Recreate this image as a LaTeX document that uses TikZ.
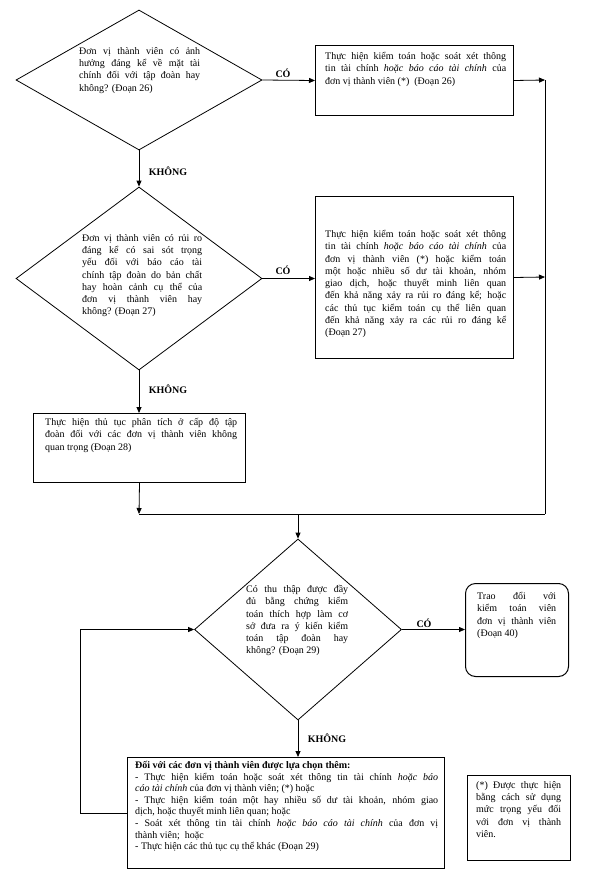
\documentclass[tikz,border=0pt]{standalone}
\usepackage{fontspec}
\setmainfont{Liberation Serif}
\usetikzlibrary{arrows.meta,shapes.geometric}
\begin{document}
\begin{tikzpicture}[x=1pt,y=-1pt,
 ln/.style={line width=0.8pt},
 arr/.style={ln,-{Triangle[length=6pt,width=5pt]}},
 box/.style={draw,line width=1pt,rectangle,inner sep=0pt,anchor=north west},
 dia/.style={draw,diamond,line width=0.8pt,inner sep=0pt},
 txt/.style={anchor=north west,inner sep=0pt,align=justify,font=\fontsize{10}{12.3}\selectfont},
 lbl/.style={font=\bfseries\fontsize{10}{12}\selectfont,inner sep=1pt}]
\useasboundingbox (0,0) rectangle (601,883);
% shapes
\node[dia,minimum width=246pt,minimum height=140pt] (d1) at (139,80) {};
\node[dia,minimum width=246pt,minimum height=183pt] (d2) at (139,278.5) {};
\node[dia,minimum width=207pt,minimum height=181pt] (d4) at (298,629.5) {};
\node[box,minimum width=198pt,minimum height=70pt] (b1) at (315,45) {};
\node[box,minimum width=198pt,minimum height=162pt] (b2) at (315,196) {};
\node[box,minimum width=212pt,minimum height=69pt] (b3) at (33,413) {};
\node[box,rounded corners=10pt,minimum width=103pt,minimum height=93pt] (b5) at (465,583) {};
\node[box,minimum width=317pt,minimum height=111pt] (b6) at (127,757) {};
\node[box,minimum width=103pt,minimum height=85pt] (b7) at (467,775) {};
% texts
\node[txt,text width=121pt] (t1) at (79,47) {Đơn vị thành viên có ảnh\linebreak hưởng đáng kể về mặt tài\linebreak chính đối với tập đoàn hay\linebreak không? (Đoạn 26)};
\node[txt,text width=120pt] (t2) at (82,234) {Đơn vị thành viên có rủi ro\linebreak đáng kể có sai sót trọng\linebreak yếu đối với báo cáo tài\linebreak chính tập đoàn do bản chất\linebreak hay hoàn cảnh cụ thể của\linebreak đơn vị thành viên hay\linebreak không? (Đoạn 27)};
\node[txt,text width=181pt] (tb1) at (325,52) {Thực hiện kiểm toán hoặc soát xét thông\linebreak tin tài chính \textit{hoặc báo cáo tài chính} của\linebreak đơn vị thành viên (*) \ (Đoạn 26)};
\node[txt,text width=181pt] (tb2) at (325,230) {Thực hiện kiểm toán hoặc soát xét thông\linebreak tin tài chính \textit{hoặc báo cáo tài chính} của\linebreak đơn vị thành viên (*) hoặc kiểm toán\linebreak một hoặc nhiều số dư tài khoản, nhóm\linebreak giao dịch, hoặc thuyết minh liên quan\linebreak đến khả năng xảy ra rủi ro đáng kể; hoặc\linebreak các thủ tục kiểm toán cụ thể liên quan\linebreak đến khả năng xảy ra các rủi ro đáng kể\linebreak (Đoạn 27)};
\node[txt,text width=192pt] (tb3) at (45,418) {Thực hiện thủ tục phân tích ở cấp độ tập\linebreak đoàn đối với các đơn vị thành viên không\linebreak quan trọng (Đoạn 28)};
\node[txt,text width=102pt] (t4) at (246,585) {Có thu thập được đầy\linebreak đủ bằng chứng kiểm\linebreak toán thích hợp làm cơ\linebreak sở đưa ra ý kiến kiểm\linebreak toán tập đoàn hay\linebreak không? (Đoạn 29)};
\node[txt,text width=79pt] (tb5) at (477,592) {Trao đổi với\linebreak kiểm toán viên\linebreak đơn vị thành viên\linebreak (Đoạn 40)};
\node[txt,text width=303pt,font=\fontsize{10}{11.6}\selectfont] (tb6) at (135,761) {\textbf{Đối với các đơn vị thành viên được lựa chọn thêm:}\\
- Thực hiện kiểm toán hoặc soát xét thông tin tài chính \textit{hoặc báo}\linebreak \textit{cáo tài chính} của đơn vị thành viên; (*) hoặc\\
- Thực hiện kiểm toán một hay nhiều số dư tài khoản, nhóm giao\linebreak dịch, hoặc thuyết minh liên quan; hoặc\\
- Soát xét thông tin tài chính \textit{hoặc báo cáo tài chính} của đơn vị\linebreak thành viên; \ hoặc\\
- Thực hiện các thủ tục cụ thể khác (Đoạn 29)};
\node[txt,text width=85pt] (tb7) at (476,781) {(*) Được thực hiện\linebreak bằng cách sử dụng\linebreak mức trọng yếu đối\linebreak với đơn vị thành\linebreak viên.};
% coordinates
\coordinate (r1) at (545,80);
\coordinate (r2) at (545,277);
\coordinate (j1) at (139,514);
\coordinate (j2) at (545,514);
\coordinate (j3) at (298,514);
\coordinate (l1) at (80,629.5);
% connectors
\draw[arr] (d1.east) -- (b1.west);
\draw[arr] (d2.east) -- (d2.east -| b2.west);
\draw[arr] (b1.east) -- (r1);
\draw[arr] (b2.east) -- (r2);
\draw[ln] (r1) -- (j2);
\draw[arr] (d1.south) -- (d2.north);
\draw[arr] (d2.south) -- (d2.south |- b3.north);
\draw[arr] (b3.south) -- (j1);
\draw[ln] (j1) -- (j2);
\draw[arr] (j3) -- (d4.north);
\draw[arr] (d4.east) -- (d4.east -| b5.west);
\draw[arr] (d4.south) -- (d4.south |- b6.north);
\draw[arr] (b6.west) -| (l1) -- (d4.west);
% labels
\node[lbl] (c1) at (283,73) {CÓ};
\node[lbl] (c2) at (283,270) {CÓ};
\node[lbl] (c3) at (424,623) {CÓ};
\node[lbl] (k1) at (168,171) {KHÔNG};
\node[lbl] (k2) at (168,389) {KHÔNG};
\node[lbl] (k3) at (327,738) {KHÔNG};
\end{tikzpicture}
\end{document}
